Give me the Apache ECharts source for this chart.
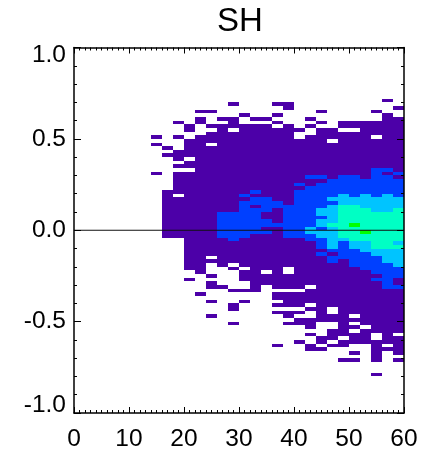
<!DOCTYPE html>
<html><head><meta charset="utf-8">
<style>html,body{margin:0;padding:0;background:#fff}#c{width:433px;height:452px}</style>
<script src="https://cdn.jsdelivr.net/npm/echarts@6/dist/echarts.min.js"></script>
</head><body><div id="c"></div>
<script>
const titleText = 'SH';
const xStart = 14, xBin = 2, yBin = 0.02;
const levelColors = {1:'#4c00a8',2:'#0040ff',3:'#00c4ff',4:'#00ffc4',5:'#00ff00'};
// rows from y = +0.70 (top row) down to y = 0
const rowsAbove = [
'.....................1.',
'.......1...11..........',
'............1.........1',
'....11.........1....1..',
'........1..1.........1.',
'....1.11.11...1......11',
'..1.1..1...1...1.111111',
'...1.111111.1.1..111111',
'...1..1.111111.11..1111',
'.....11111111..11111111',
'1.1.111111111.111111.11',
'...1111111111111.111111',
'1..11.11111111111111111',
'.1.11111111111111111111',
'..111111111111111111111',
'.1111111111111111111111',
'..1.1111111111111111111',
'...11111111111111111111',
'..111111111111111111111',
'....1111111111111111221',
'1.111111111111111111212',
'..111111111111221221221',
'..111111111111112222222',
'..111111111112122222222',
'..111111111111222222222',
'.1111111121112222222222',
'.1.11111211112222323232',
'.1111111122112223333333',
'.1111111222212222333333',
'.1111111212222223443333',
'.1111111222122233444334',
'.1111122221122233444444',
'.1111122221122223444444',
'.1111122222122233444444',
'.1111122222222234454444',
'.1111122221122323444444'
];
// rows from y = 0 downwards
const rowsBelow = [
'.1111122222122333445444',
'.1111122211122233444444',
'...11112111111223344444',
'...11111111111123233443',
'...11111111111123233444',
'...11111111111112223333',
'...11111111111121222333',
'...11.11111111112222233',
'...11111111111112122233',
'...11.1.111111111122223',
'...11..1.111.1111112222',
'....1...11.1.1111111222',
'.....1..111111111111122',
'...1....111111111111221',
'.....1...11111111111121',
'.....11..1.111.11111122',
'.......111....111111111',
'....1......111111111111',
'...........111111111111',
'.....1..1...11111111111',
'.......1...111.11111111',
'.......1......11.111111',
'...........111.1.111111',
'.....1......1..111.1111',
'.............1111111111',
'.......1....111..1.1111',
'..............1..11.111',
'................11.1111',
'..............1.1111.1.',
'...............11.11.11',
'.............1.1.111111',
'...........1..1.11..1.1',
'..............11....111',
'..................1.1.1',
'....................1..',
'.................11.1.1',
'.......................',
'.......................',
'.......................',
'....................1..'
];
const zeroLine = [[0,0],[60,0]];

const cells = [];
function addRow(str, yLow){
  for(let i=0;i<str.length;i++){
    if(str[i]!=='.') cells.push([xStart+i*xBin, yLow, +str[i]]);
  }
}
rowsAbove.forEach((s,k)=>addRow(s,(rowsAbove.length-1-k)*yBin));
rowsBelow.forEach((s,k)=>addRow(s,-(k+1)*yBin));

const font = 'Liberation Sans';
const lineStyle = {color:'#000',width:1.5};
function baseX(extra){return Object.assign({type:'value',min:0,max:60,interval:10,z:5,
  axisLine:{show:true,onZero:false,lineStyle},splitLine:{show:false},
  axisTick:{show:true,inside:true,length:6,lineStyle:{color:'#000',width:1}},
  minorTick:{show:true,splitNumber:10,length:3,lineStyle:{color:'#000',width:1}},
  minorSplitLine:{show:false}},extra);}
function baseY(extra){return Object.assign({type:'value',min:-1,max:1,interval:0.5,z:5,
  axisLine:{show:true,onZero:false,lineStyle},splitLine:{show:false},
  axisTick:{show:true,inside:true,length:7,lineStyle:{color:'#000',width:1}},
  minorTick:{show:true,splitNumber:5,length:3,lineStyle:{color:'#000',width:1}},
  minorSplitLine:{show:false}},extra);}

const chart = echarts.init(document.getElementById('c'),null,{renderer:'canvas'});
chart.setOption({
  animation:false,
  backgroundColor:'#fff',
  title:{text:titleText,left:212,top:0,
    textStyle:{fontFamily:font,fontSize:33,fontWeight:'normal',color:'#000'}},
  grid:{left:74,right:29,top:47.5,bottom:38.5},
  xAxis:[
    baseX({position:'bottom',axisLabel:{show:true,margin:14,fontFamily:font,fontSize:24.5,color:'#000',hideOverlap:false}}),
    baseX({position:'top',axisLabel:{show:false}})
  ],
  yAxis:[
    baseY({position:'left',axisLabel:{show:true,margin:8,fontFamily:font,fontSize:24.5,lineHeight:15,color:'#000',hideOverlap:false,
      verticalAlignMaxLabel:'top',verticalAlignMinLabel:'bottom',
      formatter:v=>v.toFixed(1)}}),
    baseY({position:'right',axisLabel:{show:false}})
  ],
  series:[
    {type:'custom',coordinateSystem:'cartesian2d',xAxisIndex:0,yAxisIndex:0,silent:true,clip:false,
     encode:{x:0,y:1},data:cells,
     renderItem:function(params,api){
       const x=api.value(0),y=api.value(1),lv=api.value(2);
       const a=api.coord([x,y+yBin]),b=api.coord([x+xBin,y]);
       const x0=Math.round(a[0]),y0=Math.round(a[1]),x1=Math.round(b[0]),y1=Math.round(b[1]);
       return {type:'rect',shape:{x:x0,y:y0,width:x1-x0,height:y1-y0},style:{fill:levelColors[lv]}};
     }},
    {type:'line',xAxisIndex:0,yAxisIndex:0,data:zeroLine,symbol:'none',silent:true,z:4,
     lineStyle:{color:'#111',width:1.2}}
  ]
});
</script></body></html>
